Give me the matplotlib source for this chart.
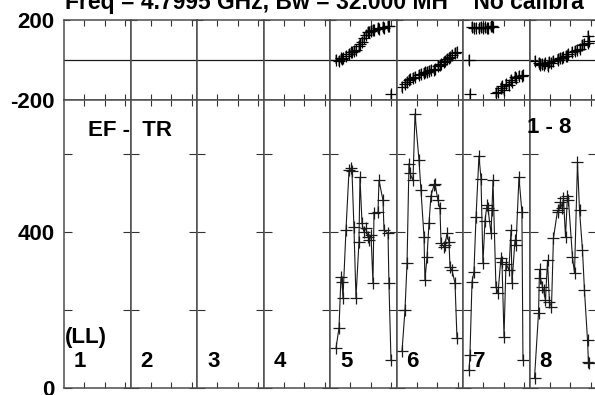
import matplotlib
matplotlib.use("Agg")
import matplotlib.pyplot as plt

plt.rcParams['font.family'] = ['Liberation Sans', 'DejaVu Sans']
plt.rcParams['font.weight'] = 'bold'

# ---- data ----
title = "Freq = 4.7995 GHz, Bw = 32.000 MH    No calibra"
baseline_label = "EF -  TR"
chan_label = "1 - 8"
pol_label = "(LL)"
panel_names = ['1', '2', '3', '4', '5', '6', '7', '8']

# time within each panel, minutes
time_5 = [5.9, 8.8, 10.7, 11.7, 12.7, 15.6, 18.6, 20.5, 21.5, 23.4, 25.4, 28.3, 29.3, 31.3,
          33.2, 35.2, 37.1, 38.1, 40.1, 42.0, 43.0, 46.9, 47.9, 51.8, 52.8, 56.7, 57.6, 59.6]
time_6 = [5.4, 8.3, 10.3, 12.2, 13.2, 16.1, 18.1, 22.0, 23.9, 26.9, 27.8, 29.8, 31.8, 33.7,
          36.6, 37.6, 40.5, 42.5, 43.5, 46.4, 47.4, 49.3, 51.3, 52.3, 54.2, 57.2, 59.1]
time_7 = [5.9, 6.8, 8.8, 10.7, 12.7, 15.6, 17.6, 19.5, 21.5, 23.4, 24.4, 27.4, 28.3, 29.3,
          32.2, 34.2, 37.1, 38.1, 40.1, 42.0, 44.9, 46.9, 47.9, 50.8, 51.8, 54.7, 57.6, 58.6]
time_8 = [4.9, 8.8, 9.8, 10.7, 12.7, 13.7, 15.6, 17.6, 19.5, 21.5, 23.4, 27.4, 28.3, 30.3,
          32.2, 33.2, 35.2, 37.1, 38.1, 42.0, 44.0, 46.9, 48.9, 51.8, 53.7, 56.7, 57.6, 58.6]

amp_5 = [103, 154, 284, 272, 231, 404, 558, 563, 555, 412, 231, 374, 540, 422,
         399, 410, 387, 379, 392, 269, 448, 450, 532, 481, 404, 397, 269, 72]
amp_6 = [95, 200, 320, 575, 550, 532, 703, 583, 507, 387, 276, 335, 424, 493,
         519, 524, 481, 460, 371, 362, 366, 396, 374, 310, 302, 269, 128]
amp_7 = [47, 85, 272, 297, 437, 595, 536, 320, 429, 468, 460, 396, 455, 532,
         259, 243, 333, 322, 131, 319, 302, 404, 269, 379, 366, 540, 450, 72]
amp_8 = [26, 192, 304, 282, 259, 251, 225, 327, 220, 208, 384, 455, 450, 476,
         460, 486, 387, 493, 481, 335, 294, 578, 455, 353, 251, 123, 67, 64]

phase_5 = [2, -5, 8, 5, 10, 20, 30, 38, 42, 45, 48, 70, 80, 92,
           110, 125, 140, 140, 145, 150, 150, 160, 155, 165, 162, 170, 172, -172]
phase_6 = [-135, -120, -110, -100, -95, -88, -85, -75, -70, -65, -62, -60, -55, -50,
           -48, -45, -30, -25, -22, -10, -5, 5, 10, 15, 25, 35, 42]
phase_7 = [0, -172, 165, 160, 162, 158, 165, 160, 163, 158, 160, 168, 170, 165,
           -165, -160, -140, -130, -150, -120, -125, -100, -110, -85, -90, -80, -78, -75]
phase_8 = [-5, -15, -20, -25, -20, -25, -15, -30, -10, -15, -5, 0, 5, 10,
           12, 15, 20, 22, 30, 40, 45, 50, 55, 75, 80, 85, 120, 95]

times = {5: time_5, 6: time_6, 7: time_7, 8: time_8}
amps = {5: amp_5, 6: amp_6, 7: amp_7, 8: amp_8}
phases = {5: phase_5, 6: phase_6, 7: phase_7, 8: phase_8}

# ---- layout in pixels ----
W, H = 595, 395
fig = plt.figure(figsize=(W / 100, H / 100), dpi=100)

x0, pw = 64, 66.5
ph_top, ph_bot = 20, 100
amp_bot = 388

spine_c = '0.3'

def style(ax):
    for s in ax.spines.values():
        s.set_linewidth(1.1)
        s.set_color(spine_c)
    ax.tick_params(direction='in', length=4.5, width=0.8, color='0.2',
                   top=True, bottom=True, left=True, right=True,
                   labelbottom=False, labelleft=False)
    ax.set_xlim(0, 65)
    ax.set_xticks([20, 40, 60])

for i, name in enumerate(panel_names):
    left = (x0 + i * pw) / W
    ax_p = fig.add_axes([left, 1 - ph_bot / H, pw / W, (ph_bot - ph_top) / H])
    ax_a = fig.add_axes([left, 1 - amp_bot / H, pw / W, (amp_bot - ph_bot) / H])
    style(ax_p)
    style(ax_a)

    ax_p.set_ylim(-200, 200)
    ax_p.set_yticks([-200, 200])
    ax_p.axhline(0, color='0.1', lw=0.9)
    ax_a.set_ylim(0, 738)
    ax_a.set_yticks([0, 200, 400, 600])
    ax_a.tick_params(axis='y', length=6)

    k = i + 1
    if k in amps:
        ax_p.errorbar(times[k], phases[k], yerr=24, fmt='none', ecolor='0.45', elinewidth=1.1)
        ax_p.plot(times[k], phases[k], ls='none', marker='+', ms=9, mew=0.9, color='black')
        ax_a.plot(times[k], amps[k], color='0.1', lw=0.8, marker='+', ms=9, mew=0.9)

    ax_a.text(10 / pw, (amp_bot - 367) / (amp_bot - ph_bot), name, transform=ax_a.transAxes,
              fontsize=16, fontweight='bold', va='baseline', ha='left')

    if i == 0:
        ax_p.tick_params(axis='y', labelleft=True, labelsize=16, pad=7)
        ax_p.set_yticklabels(['-200', '200'], fontweight='bold')
        ax_a.tick_params(axis='y', labelleft=True, labelsize=16, pad=7)
        ax_a.set_yticklabels(['0', '', '400', ''], fontweight='bold')
        ax_a.text(1 / pw, (amp_bot - 343) / (amp_bot - ph_bot), pol_label, transform=ax_a.transAxes,
                  fontsize=16, fontweight='bold', va='baseline', ha='left')

fig.text(65 / W, 1 - 9 / H, title, fontsize=16.5, fontweight='bold', va='baseline', ha='left')
fig.text(88 / W, 1 - 136 / H, baseline_label, fontsize=16, fontweight='bold', va='baseline')
fig.text(527 / W, 1 - 133 / H, chan_label, fontsize=16, fontweight='bold', va='baseline')

fig.savefig('out.png', dpi=100)
